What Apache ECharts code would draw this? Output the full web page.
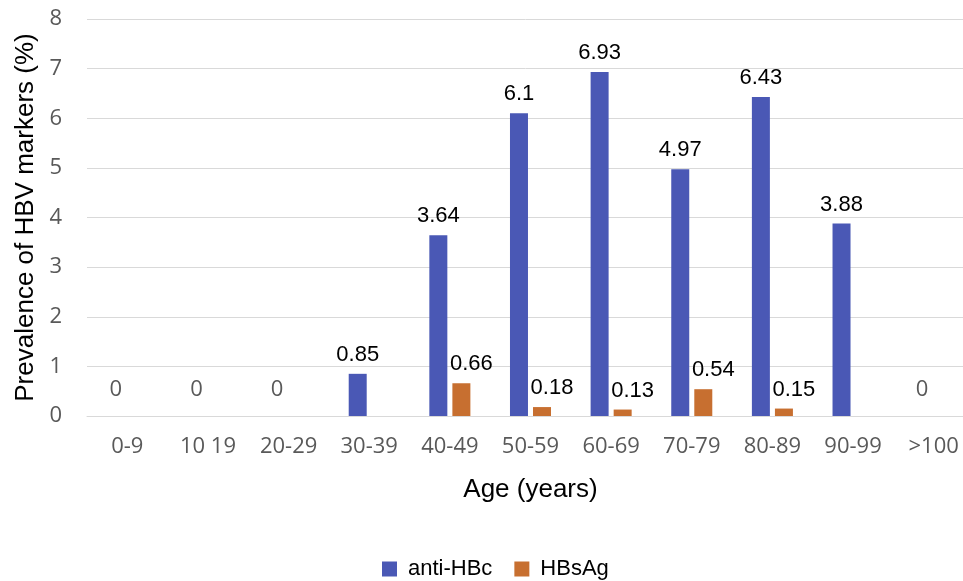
<!DOCTYPE html>
<html>
<head>
<meta charset="utf-8">
<script src="https://cdn.jsdelivr.net/npm/echarts@6/dist/echarts.min.js"></script>
<style>html,body{margin:0;padding:0;background:#fff}#c{width:963px;height:581px}</style>
</head>
<body>
<div id="c"></div>
<script>
const categories = ['0-9', '10 19', '20-29', '30-39', '40-49', '50-59', '60-69', '70-79', '80-89', '90-99', '>100'];
const antiHBc = [0, 0, 0, 0.85, 3.64, 6.1, 6.93, 4.97, 6.43, 3.88, 0];
const HBsAg = [0, 0, 0, 0, 0.66, 0.18, 0.13, 0.54, 0.15, 0, 0];
const yTicks = [0, 1, 2, 3, 4, 5, 6, 7, 8];

const tickFont = '"Open Sans", sans-serif';
const chart = echarts.init(document.getElementById('c'), null, {renderer: 'canvas'});

const antiData = antiHBc.map(v => v === 0 ? {
  value: v,
  label: {color: '#595959', fontFamily: tickFont, fontSize: 22, distance: 15}
} : {value: v});

chart.setOption({
  animation: false,
  grid: {left: 87, width: 887, top: 19, bottom: 165, outerBoundsMode: 'none', containLabel: false},
  legend: {
    top: 553,
    left: 377,
    itemWidth: 15,
    itemHeight: 15,
    itemGap: 22,
    icon: 'rect',
    textStyle: {fontFamily: 'Liberation Sans, Arial, sans-serif', fontSize: 22, color: '#000', padding: [0, 0, 0, 6]},
    data: ['anti-HBc', 'HBsAg']
  },
  xAxis: {
    type: 'category',
    data: categories,
    name: 'Age (years)',
    nameLocation: 'middle',
    nameGap: 61,
    nameTextStyle: {fontFamily: 'Liberation Sans, Arial, sans-serif', fontSize: 26, color: '#000'},
    axisLine: {lineStyle: {color: '#d9d9d9', width: 1}},
    axisTick: {show: false},
    axisLabel: {fontFamily: tickFont, fontSize: 22, color: '#595959', margin: 20, interval: 0}
  },
  yAxis: {
    type: 'value',
    min: yTicks[0],
    max: yTicks[yTicks.length - 1],
    interval: 1,
    name: 'Prevalence of HBV markers (%)',
    nameLocation: 'middle',
    nameGap: 46,
    nameTextStyle: {fontFamily: 'Liberation Sans, Arial, sans-serif', fontSize: 26, color: '#000'},
    axisLine: {show: false},
    axisTick: {show: false},
    splitLine: {lineStyle: {color: '#d9d9d9', width: 1}},
    axisLabel: {fontFamily: tickFont, fontSize: 22, color: '#595959', margin: 25}
  },
  series: [
    {
      name: 'anti-HBc',
      type: 'bar',
      data: antiData,
      barWidth: 18,
      barGap: '28%',
      itemStyle: {color: '#4A58B5'},
      label: {show: true, position: 'top', distance: 8, fontFamily: 'Liberation Sans, Arial, sans-serif', fontSize: 22, color: '#000'}
    },
    {
      name: 'HBsAg',
      type: 'bar',
      data: HBsAg,
      barWidth: 18,
      itemStyle: {color: '#C76F30'},
      label: {
        show: true, position: 'top', distance: 8, offset: [10, 0],
        fontFamily: 'Liberation Sans, Arial, sans-serif', fontSize: 22, color: '#000',
        formatter: p => p.value === 0 ? '' : String(p.value)
      }
    }
  ]
});
</script>
</body>
</html>
